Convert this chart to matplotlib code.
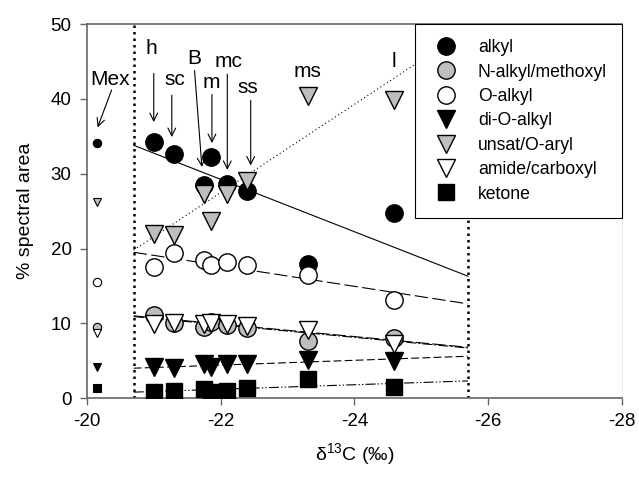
import matplotlib
matplotlib.use("Agg")
import matplotlib.pyplot as plt
from matplotlib.lines import Line2D

plt.rcParams['font.family'] = ['Liberation Sans', 'DejaVu Sans']
plt.rcParams['mathtext.fontset'] = 'custom'
plt.rcParams['mathtext.rm'] = 'Liberation Sans'
plt.rcParams['mathtext.it'] = 'Liberation Sans:italic'
plt.rcParams['axes.unicode_minus'] = False

# Sites and their carbon isotope values (first entry: Mex reference sample)
sites = ['Mex', 'h', 'sc', 'B', 'm', 'mc', 'ss', 'ms', 'l']
d13c = [-20.15, -21.0, -21.3, -21.75, -21.85, -22.1, -22.4, -23.3, -24.6]

# % spectral area per carbon type
alkyl = [34.1, 34.2, 32.7, 28.5, 32.2, 28.6, 27.7, 17.9, 24.7]
n_alkyl = [9.5, 11.1, 10.0, 9.5, 10.2, 9.8, 9.4, 7.7, 8.1]
o_alkyl = [15.5, 17.5, 19.4, 18.4, 17.8, 18.2, 17.8, 16.4, 13.1]
di_o_alkyl = [4.2, 4.1, 4.0, 4.6, 4.1, 4.5, 4.5, 5.1, 4.9]
unsat = [26.2, 21.9, 21.8, 27.3, 23.7, 27.3, 29.0, 40.4, 39.9]
amide = [8.7, 9.9, 10.0, 9.9, 10.0, 9.9, 9.6, 9.1, 7.2]
ketone = [1.3, 0.8, 1.0, 1.2, 0.8, 0.9, 1.3, 2.5, 1.5]

# Linear trends over the delta13C window
trend_x = [-20.7, -25.7]
alkyl_trend = [33.8, 16.3]
n_alkyl_trend = [10.9, 6.7]
o_alkyl_trend = [19.5, 12.6]
di_o_alkyl_trend = [4.0, 5.6]
unsat_trend = [19.8, 49.3]
amide_trend = [11.0, 6.8]
ketone_trend = [0.8, 2.3]

gray = '#bebebe'
series = [
    ('alkyl', alkyl, alkyl_trend, 'o', 'black', '-'),
    ('N-alkyl/methoxyl', n_alkyl, n_alkyl_trend, 'o', gray, (0, (9, 2, 1.5, 2))),
    ('O-alkyl', o_alkyl, o_alkyl_trend, 'o', 'white', (0, (12, 4))),
    ('di-O-alkyl', di_o_alkyl, di_o_alkyl_trend, 'v', 'black', (0, (7, 3))),
    ('unsat/O-aryl', unsat, unsat_trend, 'v', gray, (0, (1, 2.5))),
    ('amide/carboxyl', amide, amide_trend, 'v', 'white', (0, (12, 3))),
    ('ketone', ketone, ketone_trend, 's', 'black', (0, (9, 2, 1.2, 2, 1.2, 2))),
]

fig = plt.figure(figsize=(6.39, 4.82), dpi=100)
ax = fig.add_axes([0.136, 0.174, 0.837, 0.776])

# window limits
for xv in trend_x:
    ax.plot([xv, xv], [0, 50], color='black', lw=1.8, ls=(0, (1, 1.6)), zorder=1)

handles = []
for name, vals, trend, mk, fc, ls in series:
    big = 12.5 if mk != 's' else 11.5
    small = 6 if mk != 's' else 5.5
    ax.plot(trend_x, trend, color='black', lw=0.8, ls=ls, zorder=2)
    ax.plot(d13c[1:], vals[1:], ls='none', marker=mk, ms=big,
            mfc=fc, mec='black', mew=1.0, zorder=3)
    ax.plot(d13c[:1], vals[:1], ls='none', marker=mk, ms=small,
            mfc=fc, mec='black', mew=0.8, zorder=3)
    handles.append(Line2D([], [], ls='none', marker=mk, ms=big,
                          mfc=fc, mec='black', mew=1.0, label=name))

# site labels: (text x, text baseline y, arrow start, arrow end)
label_pos = {
    'Mex': (-20.34, 41.8, (-20.37, 41.2), (-20.16, 36.2)),
    'h': (-20.97, 46.0, (-21.0, 43.4), (-21.0, 36.9)),
    'sc': (-21.32, 41.8, (-21.27, 40.5), (-21.27, 34.9)),
    'B': (-21.61, 44.6, (-21.61, 43.8), (-21.72, 30.9)),
    'm': (-21.86, 41.4, (-21.87, 40.6), (-21.87, 34.1)),
    'mc': (-22.12, 44.3, (-22.1, 43.3), (-22.1, 30.5)),
    'ss': (-22.41, 40.8, (-22.45, 39.8), (-22.45, 31.1)),
    'ms': (-23.30, 42.9, None, None),
    'l': (-24.59, 44.3, None, None),
}
for s in sites:
    tx, ty, a0, a1 = label_pos[s]
    ax.text(tx, ty, s, ha='center', va='baseline', fontsize=15, zorder=5)
    if a0 is not None:
        ax.annotate('', xy=a1, xytext=a0,
                    arrowprops=dict(arrowstyle='->', lw=0.8, color='black',
                                    shrinkA=0, shrinkB=0, mutation_scale=14),
                    zorder=5)

ax.set_xlim(-20, -28)
ax.set_ylim(0, 50)
ax.set_xticks([-20, -22, -24, -26, -28])
ax.set_yticks([0, 10, 20, 30, 40, 50])
ax.tick_params(direction='out', length=5, width=1, color='#666666', labelsize=13.5, pad=6)
for sp in ['left', 'bottom', 'top']:
    ax.spines[sp].set_color('#666666')
    ax.spines[sp].set_linewidth(1.2)
ax.spines['right'].set_color('#eeeeee')

ax.set_xlabel('δ$^{13}$C (‰)', fontsize=14, labelpad=8)
ax.set_ylabel('% spectral area', fontsize=14, labelpad=12)

leg = ax.legend(handles=handles, loc='upper right', bbox_to_anchor=(1, 1),
                borderaxespad=0, fontsize=12.7, frameon=True, fancybox=False,
                edgecolor='black', framealpha=1, handlelength=1.8,
                handletextpad=0.9, labelspacing=0.42, borderpad=0.85)
leg.get_frame().set_linewidth(0.8)
leg.set_zorder(10)

fig.savefig('out.png', dpi=100)
